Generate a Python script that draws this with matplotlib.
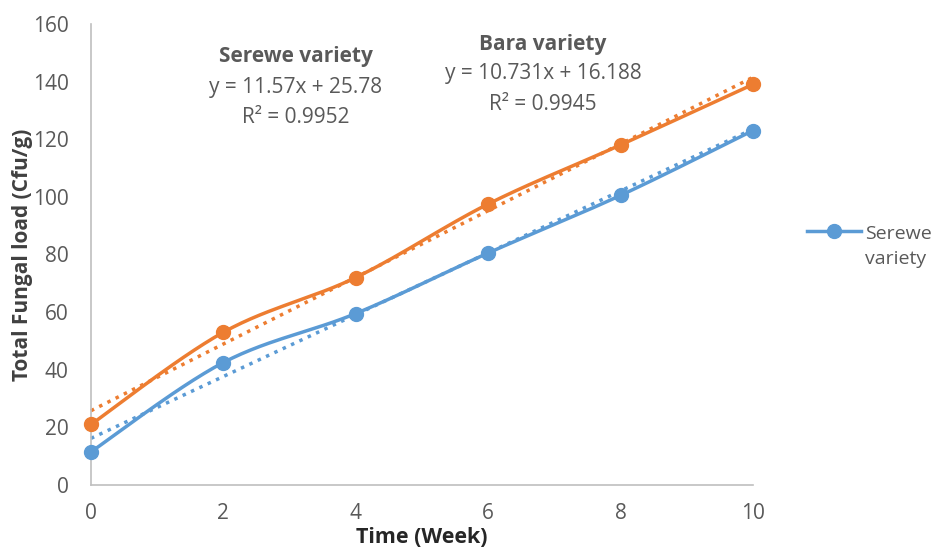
import numpy as np
import matplotlib
matplotlib.use('Agg')
import matplotlib.pyplot as plt

weeks = [0, 2, 4, 6, 8, 10]
serewe = [11.5, 42.5, 59.5, 80.5, 100.5, 123.0]
bara = [21.0, 53.0, 72.0, 97.5, 118.0, 139.0]

# trendline coefficients as printed on the chart
serewe_fit = (10.731, 16.188)
bara_fit = (11.57, 25.78)

BLUE = '#5B9BD5'
ORANGE = '#ED7D31'
GREY = '#595959'


def smooth(xs, ys, n=30):
    # excel style smoothed line (catmull-rom as bezier)
    x = np.asarray(xs, float)
    y = np.asarray(ys, float)
    px = np.concatenate([[x[0]], x, [x[-1]]])
    py = np.concatenate([[y[0]], y, [y[-1]]])
    out_x, out_y = [], []
    t = np.linspace(0, 1, n)
    for i in range(1, len(px) - 2):
        p0 = np.array([px[i], py[i]])
        p3 = np.array([px[i + 1], py[i + 1]])
        c1 = p0 + (np.array([px[i + 1], py[i + 1]]) - np.array([px[i - 1], py[i - 1]])) / 6
        c2 = p3 - (np.array([px[i + 2], py[i + 2]]) - np.array([px[i], py[i]])) / 6
        b = ((1 - t) ** 3)[:, None] * p0 + (3 * (1 - t) ** 2 * t)[:, None] * c1 \
            + (3 * (1 - t) * t ** 2)[:, None] * c2 + (t ** 3)[:, None] * p3
        out_x.extend(b[:, 0])
        out_y.extend(b[:, 1])
    return out_x, out_y


plt.rcParams['font.family'] = ['Open Sans', 'DejaVu Sans']

fig = plt.figure(figsize=(9.33, 5.56), dpi=100)
ax = fig.add_axes([0.0975, 0.1277, 0.7095, 0.8293])

xs = np.array([0, 10])
ax.plot(xs, bara_fit[0] * xs + bara_fit[1], ':', color=ORANGE, lw=2.5, clip_on=False)
ax.plot(xs, serewe_fit[0] * xs + serewe_fit[1], ':', color=BLUE, lw=2.5, clip_on=False)

sx, sy = smooth(weeks, serewe)
ax.plot(sx, sy, '-', color=BLUE, lw=2.5, clip_on=False)
ax.plot(weeks, serewe, 'o', color=BLUE, ms=10, clip_on=False, zorder=5)
bx, by = smooth(weeks, bara)
ax.plot(bx, by, '-', color=ORANGE, lw=2.5, clip_on=False)
ax.plot(weeks, bara, 'o', color=ORANGE, ms=10, clip_on=False, zorder=5)

ax.set_xlim(0, 10)
ax.set_ylim(0, 160)
ax.set_xticks(weeks)
ax.set_yticks(range(0, 161, 20))
ax.tick_params(length=0, labelsize=15, labelcolor=GREY)
ax.tick_params(axis='x', pad=13)
ax.tick_params(axis='y', pad=16)
for s in ['top', 'right']:
    ax.spines[s].set_visible(False)
for s in ['left', 'bottom']:
    ax.spines[s].set_color('#BFBFBF')
    ax.spines[s].set_linewidth(1.2)

ax.set_xlabel('Time (Week)', fontsize=15.5, fontweight='bold', color='#262626', labelpad=2)
ax.set_ylabel('Total Fungal load (Cfu/g)', fontsize=15, fontweight='bold', color='#404040', labelpad=0)

fs = 15
ax.text(3.09, 148.6, 'Serewe variety', ha='center', va='center', fontsize=fs, fontweight='bold', color=GREY)
ax.text(3.09, 137.8, 'y = 11.57x + 25.78', ha='center', va='center', fontsize=fs, color=GREY)
ax.text(3.09, 127.4, 'R² = 0.9952', ha='center', va='center', fontsize=fs, color=GREY)
ax.text(6.83, 152.7, 'Bara variety', ha='center', va='center', fontsize=fs, fontweight='bold', color=GREY)
ax.text(6.83, 142.7, 'y = 10.731x + 16.188', ha='center', va='center', fontsize=fs, color=GREY)
ax.text(6.83, 132.2, 'R² = 0.9945', ha='center', va='center', fontsize=fs, color=GREY)

handle, = ax.plot([], [], '-o', color=BLUE, lw=2.5, ms=10)
leg = fig.legend([handle], ['Serewe\nvariety'], loc='center left',
                 bbox_to_anchor=(0.857, 0.557), frameon=False, fontsize=14,
                 handlelength=2.75, handletextpad=0.2, labelcolor=GREY, borderaxespad=0)
leg.get_texts()[0].set_linespacing(1.5)
for ln in leg.legend_handles:
    ln.set_ydata(np.asarray(ln.get_ydata()) + 11)

fig.savefig('out.png', dpi=100)
